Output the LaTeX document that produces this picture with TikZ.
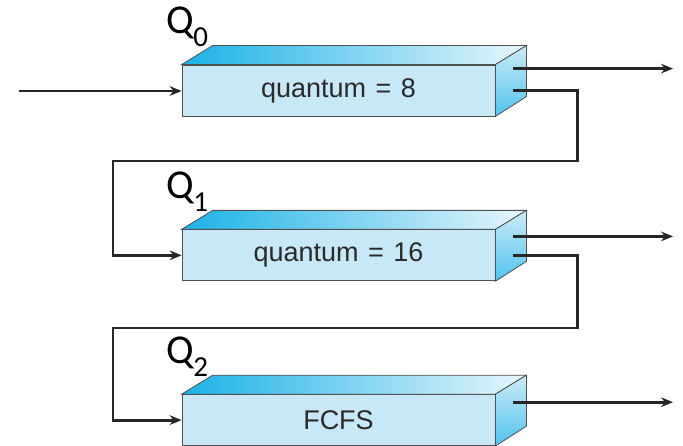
\documentclass[tikz,border=0pt]{standalone}
\usepackage{fontspec}
\setmainfont{Liberation Sans}
\newfontfamily\qfont{Carlito}
\usetikzlibrary{positioning,arrows.meta,calc}
\definecolor{facecol}{HTML}{C8E8F8}
\definecolor{topdark}{HTML}{1AB2E6}
\definecolor{toplight}{HTML}{E8F6FC}
\definecolor{sidelight}{HTML}{CDEBF9}
\definecolor{sidedark}{HTML}{4FC3EE}
\definecolor{edgecol}{HTML}{505050}
\definecolor{linecol}{HTML}{262626}
\definecolor{textcol}{HTML}{2A2A2A}
\tikzset{
  >={Stealth[length=4.2mm,width=3.4mm]},
  qbox/.style={draw=edgecol,line width=0.8pt,fill=facecol,minimum width=313pt,
    minimum height=51pt,inner sep=0pt,text=textcol,font=\fontsize{27}{29}\selectfont},
  topface/.style={draw=edgecol,line width=0.8pt,left color=topdark,right color=toplight},
  sideface/.style={draw=edgecol,line width=0.8pt,top color=sidelight,bottom color=sidedark},
  flow/.style={->,line width=2.8pt,draw=linecol},
  qlab/.style={font=\qfont\fontsize{41}{43}\selectfont,inner sep=0pt,anchor=base west},
}
\begin{document}
\begin{tikzpicture}
  \useasboundingbox (0,0) rectangle (683pt,-446pt);
  \node[qbox] (q0) at (338.5pt,-90.5pt) {quantum\hspace{0.35em}=\hspace{0.35em}8};
  \node[qbox,below=113pt of q0] (q1) {quantum\hspace{0.35em}=\hspace{0.35em}16};
  \node[qbox,below=113pt of q1] (q2) {FCFS};
  % top and side faces of the queues
  \foreach \q in {q0,q1,q2}{
    \path[topface] (\q.north west) -- ++(31pt,19pt) -- ($(\q.north east)+(31pt,19pt)$)
      -- (\q.north east) -- cycle;
    \path[sideface] (\q.north east) -- ++(31pt,19pt) -- ++(0,-51pt) -- (\q.south east) -- cycle;
  }
  \node[qlab] (lab0) at ([shift={(-15pt,31pt)}]q0.north west) {Q\kern-1pt\raisebox{-13pt}{\fontsize{29}{31}\selectfont 0}};
  \node[qlab] (lab1) at ([shift={(-15pt,31pt)}]q1.north west) {Q\kern-1pt\raisebox{-13pt}{\fontsize{29}{31}\selectfont 1}};
  \node[qlab] (lab2) at ([shift={(-15pt,31pt)}]q2.north west) {Q\kern-1pt\raisebox{-13pt}{\fontsize{29}{31}\selectfont 2}};
  % connectors
  \coordinate (src) at (19pt,-91pt);
  \coordinate (exit) at (673pt,0);
  \coordinate (b0) at (113pt,-161pt);
  \coordinate (b1) at (113pt,-328pt);
  \coordinate (o0) at ($(q0.north east)+(18pt,-4pt)$);
  \coordinate (o1) at ($(q1.north east)+(18pt,-7pt)$);
  \coordinate (o2) at ($(q2.north east)+(18pt,-8pt)$);
  \coordinate (f0) at ($(q0.east)+(18pt,0)$);
  \coordinate (f1) at ($(q1.east)+(18pt,0)$);
  \draw[flow] (src) -- (src -| q0.west);
  \draw[flow] (o0) -- (o0 -| exit);
  \draw[flow] (o1) -- (o1 -| exit);
  \draw[flow] (o2) -- (o2 -| exit);
  \draw[flow] (f0) -- ++(64pt,0) |- (b0) |- (q1.west);
  \draw[flow] (f1) -- ++(64pt,0) |- (b1) |- (q2.west);
\end{tikzpicture}
\end{document}
